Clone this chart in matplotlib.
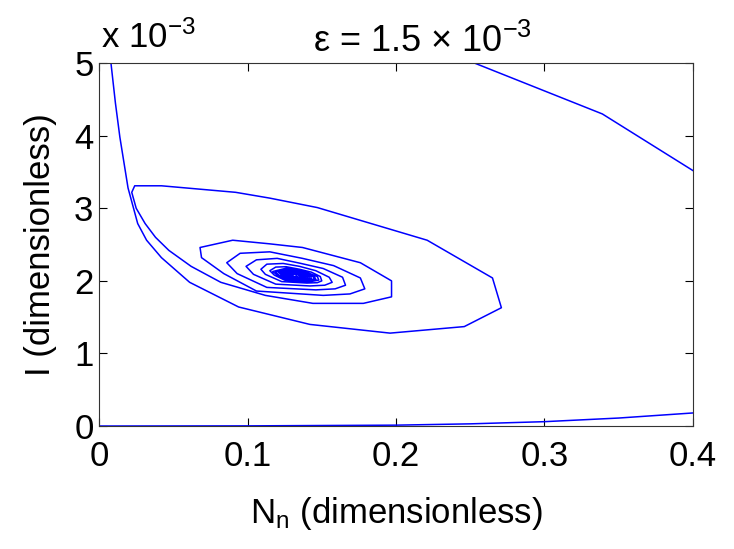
import matplotlib
matplotlib.use("Agg")
import matplotlib.pyplot as plt
import numpy as np

plt.rcParams['font.family'] = ['Liberation Sans', 'DejaVu Sans']
plt.rcParams['mathtext.default'] = 'regular'

# trajectory, I in units of 1e-3
traj_x = [0.008, 0.011, 0.014, 0.0195, 0.026, 0.032, 0.042, 0.061, 0.094, 0.132, 0.142,
          0.196, 0.246, 0.271, 0.265, 0.221, 0.147, 0.115, 0.092, 0.042, 0.024,
          0.022, 0.025, 0.031, 0.038, 0.047, 0.062, 0.082, 0.112, 0.144, 0.178, 0.197,
          0.197, 0.176, 0.137, 0.115, 0.090, 0.068, 0.069,
          # loop 3
          0.084, 0.106, 0.151, 0.169, 0.179, 0.176, 0.158, 0.137, 0.115, 0.095, 0.086, 0.093, 0.113,
          # loop 4
          0.146, 0.159, 0.166, 0.164, 0.151, 0.136, 0.120, 0.106, 0.099, 0.104, 0.119,
          # loop 5
          0.142, 0.152, 0.157, 0.155, 0.146, 0.135, 0.124, 0.113, 0.109, 0.112, 0.123,
          # loop 6
          0.140, 0.147, 0.150, 0.149, 0.143, 0.135, 0.126, 0.119, 0.115, 0.118, 0.125,
          # inner loops
          0.141, 0.148, 0.147, 0.138, 0.127, 0.117, 0.120, 0.126,
          0.140, 0.146, 0.145, 0.137, 0.128, 0.119, 0.121, 0.127,
          0.139, 0.145, 0.144, 0.137, 0.128, 0.121, 0.123, 0.128,
          0.1385, 0.143, 0.1425, 0.1363, 0.129, 0.1227, 0.1242, 0.1286,
          0.1378, 0.1417, 0.1412, 0.1359, 0.1296, 0.1241, 0.1254, 0.1292,
          0.137, 0.1404, 0.1399, 0.1354, 0.1301, 0.1255, 0.1266, 0.1298,
          0.1363, 0.139, 0.1386, 0.135, 0.1307, 0.1269, 0.1278, 0.1304,
          0.1355, 0.1376, 0.1373, 0.1345, 0.1312, 0.1283, 0.129, 0.131,
          0.1348, 0.1362, 0.136, 0.134, 0.1317, 0.1297, 0.1302, 0.1316,
          0.133]
traj_y = [5.0, 4.45, 3.98, 3.28, 2.79, 2.56, 2.32, 1.98, 1.64, 1.45, 1.40,
          1.28, 1.37, 1.63, 2.04, 2.56, 3.01, 3.14, 3.22, 3.31, 3.31,
          3.22, 3.00, 2.79, 2.60, 2.42, 2.20, 1.98, 1.80, 1.69, 1.69, 1.78,
          2.00, 2.25, 2.46, 2.51, 2.56, 2.46, 2.32,
          2.10, 1.86, 1.80, 1.82, 1.89, 2.04, 2.21, 2.31, 2.40, 2.38, 2.25, 2.10, 1.91,
          1.876, 1.89, 1.94, 2.05, 2.17, 2.24, 2.31, 2.29, 2.20, 2.09, 1.955,
          1.93, 1.94, 1.98, 2.05, 2.14, 2.20, 2.24, 2.23, 2.16, 2.09, 1.99,
          1.97, 1.975, 2.00, 2.06, 2.12, 2.16, 2.195, 2.19, 2.14, 2.08, 2.01,
          1.984, 2.011, 2.060, 2.133, 2.179, 2.129, 2.080, 2.017,
          1.995, 2.018, 2.061, 2.125, 2.166, 2.122, 2.079, 2.024,
          2.005, 2.025, 2.062, 2.118, 2.153, 2.115, 2.078, 2.030,
          2.013, 2.030, 2.063, 2.112, 2.143, 2.110, 2.077, 2.035,
          2.021, 2.036, 2.064, 2.106, 2.133, 2.104, 2.076, 2.040,
          2.028, 2.041, 2.065, 2.100, 2.123, 2.099, 2.075, 2.044,
          2.036, 2.047, 2.066, 2.095, 2.113, 2.093, 2.074, 2.049,
          2.044, 2.052, 2.067, 2.089, 2.103, 2.088, 2.073, 2.054,
          2.052, 2.057, 2.068, 2.083, 2.093, 2.083, 2.072, 2.059,
          2.07]

# upper right trajectory
top_x = [0.253, 0.339, 0.400]
top_y = [5.0, 4.30, 3.52]

# lower trajectory near I = 0
low_x = [0.0, 0.1, 0.2, 0.25, 0.3, 0.35, 0.4]
low_y = [0.0, 0.002, 0.012, 0.03, 0.06, 0.11, 0.18]

fig = plt.figure(figsize=(7.34, 5.49), dpi=100)
ax = fig.add_axes([0.135, 0.224, 0.809, 0.661])

for xs, ys in [(traj_x, traj_y), (top_x, top_y), (low_x, low_y)]:
    ax.plot(xs, ys, color='#0000ff', lw=1.1)

ax.set_xlim(0, 0.4)
ax.set_ylim(0, 5)
ax.set_xticks([0, 0.1, 0.2, 0.3, 0.4])
ax.set_xticklabels(['0', '0.1', '0.2', '0.3', '0.4'])
ax.set_yticks([0, 1, 2, 3, 4, 5])
ax.tick_params(direction='in', length=6, width=0.8, labelsize=25, top=True, right=True)
ax.tick_params(axis='x', pad=10)
ax.tick_params(axis='y', pad=4)
for s in ax.spines.values():
    s.set_linewidth(0.8)
    s.set_color('#333333')

ax.set_xlabel('N$_n$ (dimensionless)', fontsize=25, labelpad=16)
ax.set_ylabel('I (dimensionless)', fontsize=25, labelpad=12)
ax.set_title('ε = 1.5 × 10$^{-3}$', fontsize=26, pad=8, x=0.545)
fig.text(0.137, 0.9, 'x 10$^{-3}$', fontsize=25, ha='left', va='bottom')

fig.savefig('out.png', dpi=100, facecolor='white')
